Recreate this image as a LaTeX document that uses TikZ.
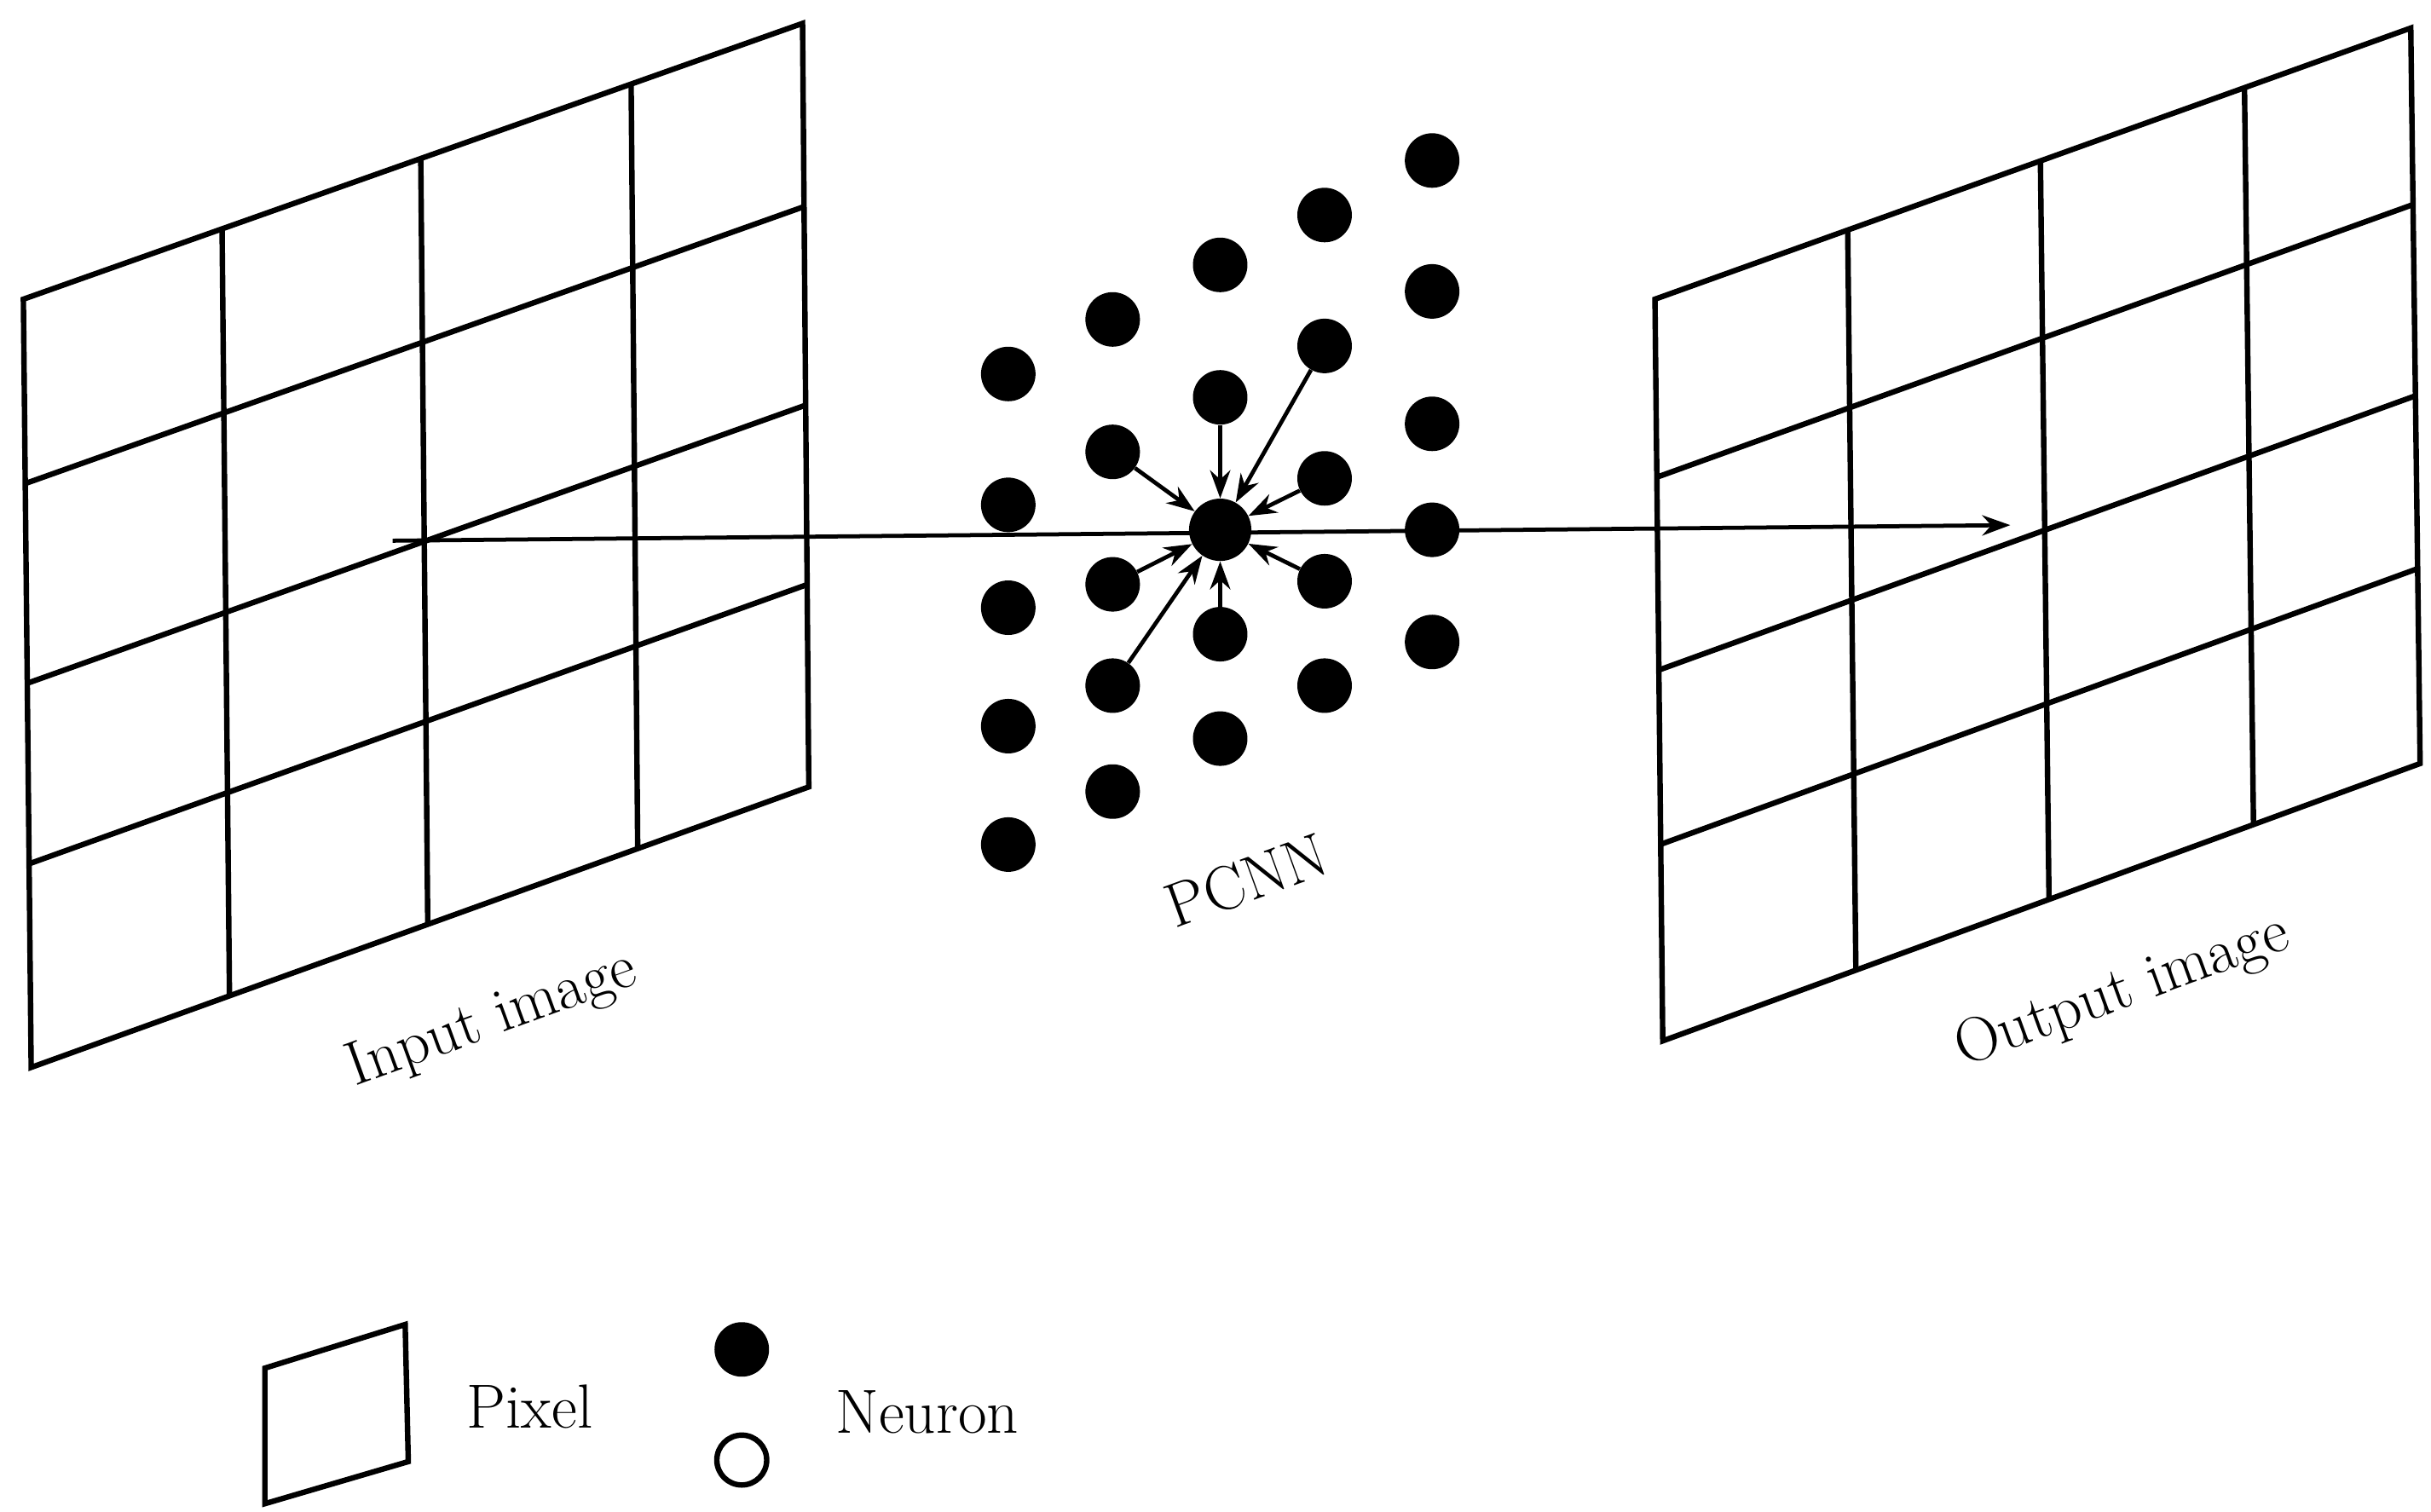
\documentclass[tikz,border=0pt]{standalone}
\usetikzlibrary{arrows.meta}
\begin{document}
\begin{tikzpicture}[x=1pt,y=-1pt,
  gridline/.style={line width=3.5pt,line join=miter},
  dot/.style={circle,fill=black,inner sep=0pt,minimum size=35pt},
  conn/.style={line width=2.6pt,-{Stealth[length=18pt,width=13pt]}},
  lab/.style={font=\fontsize{40}{44}\selectfont,rotate=20}]
\useasboundingbox (0,0) rectangle (1560,970);
\newcommand{\pgrid}[8]{%
 \draw[gridline] (#1,#2)--(#3,#4)--(#5,#6)--(#7,#8)--cycle;
 \foreach \f in {0.255,0.51,0.78}{
   \draw[gridline] ({#1+\f*(#3-#1)},{#2+\f*(#4-#2)}) -- ({#7+\f*(#5-#7)},{#8+\f*(#6-#8)});}
 \foreach \g in {0.24,0.50,0.735}{
   \draw[gridline] ({#1+\g*(#7-#1)},{#2+\g*(#8-#2)}) -- ({#3+\g*(#5-#3)},{#4+\g*(#6-#4)});}
}
\pgrid{15}{192}{515}{15}{519}{505}{20}{685}
\pgrid{1062}{192}{1547}{18}{1553}{490}{1067}{668}
\foreach \y [count=\i] in {240,324,390,466,542}{\node[dot] (a\i) at (647,\y) {};}
\foreach \y [count=\i] in {205,290,375,440,508}{\node[dot] (b\i) at (714,\y) {};}
\foreach \y [count=\i] in {170,255,407,474}{\node[dot] (c\i) at (783,\y) {};}
\foreach \y [count=\i] in {138,222,307,373,440}{\node[dot] (d\i) at (850,\y) {};}
\foreach \y [count=\i] in {103,187,272,340,412}{\node[dot] (e\i) at (919,\y) {};}
\node[dot,minimum size=40pt] (ctr) at (783,340) {};
\coordinate (src) at (252,347);
\coordinate (dst) at (1290,337);
\draw[conn] (src) -- (dst);
\foreach \n in {b2,c2,d2,d3,b3,b4,c3,d4}{\draw[conn] (\n) -- (ctr);}
\node[lab] (in) at (316,655) {Input image};
\node[lab] (pc) at (800,565) {PCNN};
\node[lab] (out) at (1362,637) {Output image};
\draw[gridline] (170,878)--(260,850)--(262,938)--(170,965)--cycle;
\node[font=\fontsize{40}{44}\selectfont] (px) at (340,903) {Pixel};
\node[dot] (ln1) at (476,866) {};
\node[circle,draw,line width=3.5pt,inner sep=0pt,minimum size=32pt] (ln2) at (476,937) {};
\node[font=\fontsize{40}{44}\selectfont] (nr) at (595,906) {Neuron};
\end{tikzpicture}
\end{document}
